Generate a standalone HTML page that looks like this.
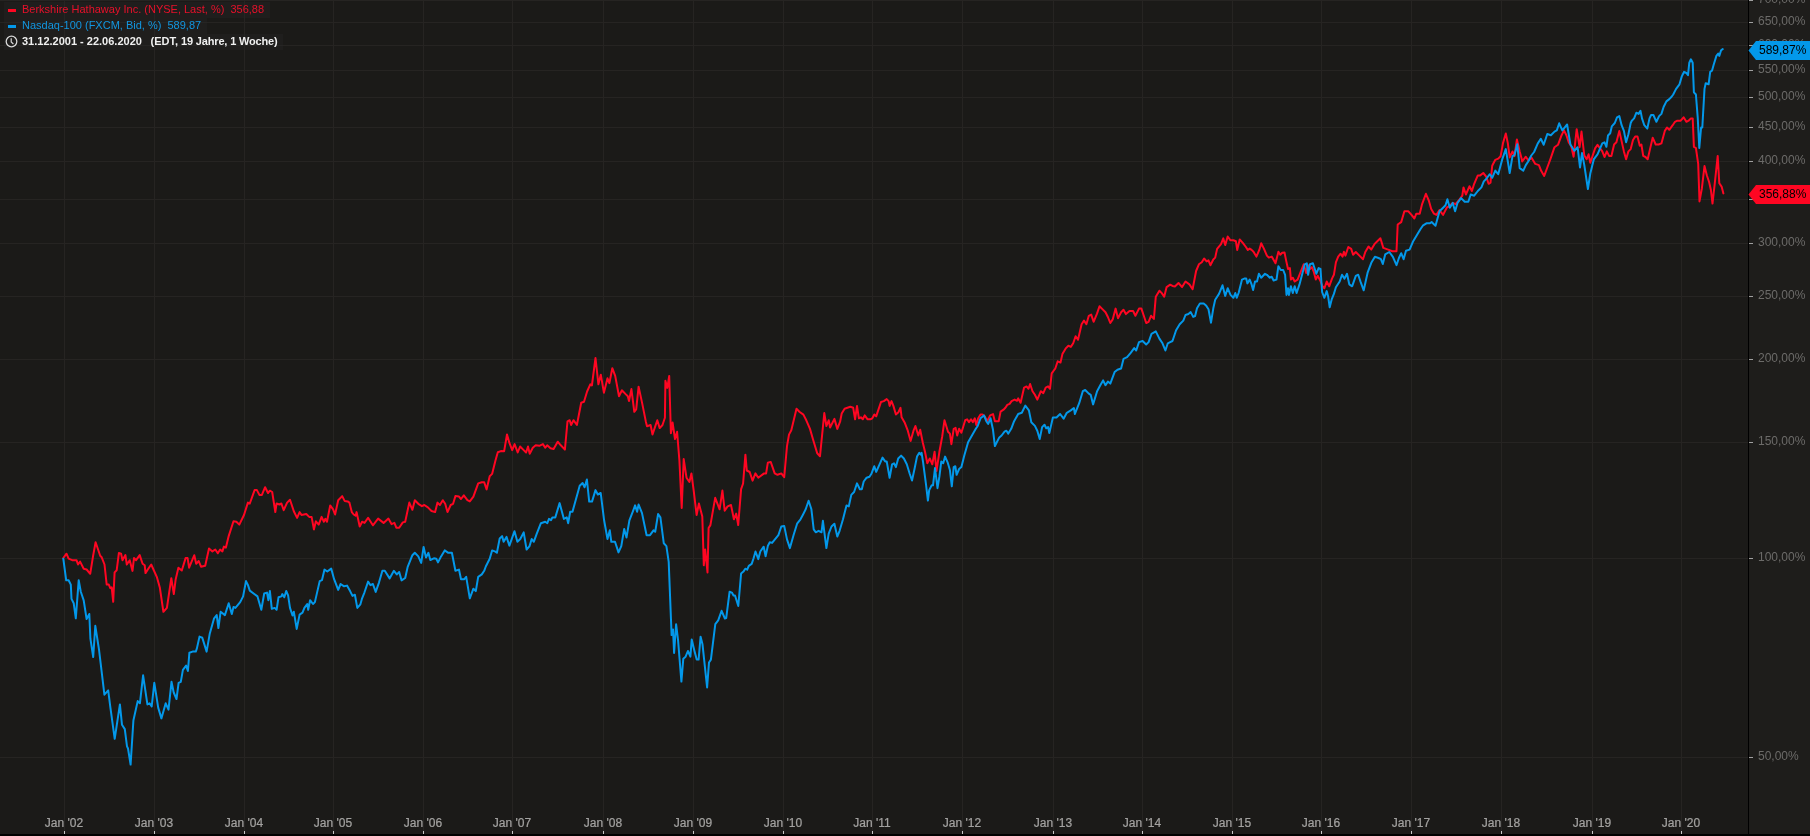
<!DOCTYPE html>
<html><head><meta charset="utf-8"><style>
html,body{-webkit-font-smoothing:antialiased;font-kerning:normal;text-rendering:optimizeLegibility;margin:0;padding:0;background:#1b1a18;width:1810px;height:836px;overflow:hidden;position:relative;font-family:"Liberation Sans",sans-serif}
svg.main{position:absolute;left:0;top:0}
.yl{will-change:transform;position:absolute;left:1758.3px;font-size:12px;line-height:14px;color:#6c6b69;white-space:nowrap}
.xl{will-change:transform;position:absolute;top:816px;width:80px;text-align:center;font-size:12px;line-height:14px;color:#a3a2a0;white-space:nowrap;-webkit-text-stroke:0.22px #a3a2a0}
.vl{will-change:transform;position:absolute;left:1758.5px;font-size:12px;line-height:19px;color:#000;white-space:nowrap}
.lg{position:absolute;background:rgba(40,40,40,0.35)}
.dash{position:absolute;width:8px;height:3px}
.lt{will-change:transform;position:absolute;font-size:11px;line-height:16px;white-space:nowrap}
</style></head><body>
<svg class="main" width="1810" height="836"><rect x="1749" y="0" width="61" height="836" fill="#1e1d1b"/><path d="M0 757.5H1748M0 558.5H1748M0 442.5H1748M0 359.5H1748M0 296.5H1748M0 243.5H1748M0 199.5H1748M0 161.5H1748M0 127.5H1748M0 97.5H1748M0 70.5H1748M0 45.5H1748M0 22.5H1748M0 0.5H1748M64.5 0V834M154.5 0V834M244.5 0V834M333.5 0V834M423.5 0V834M512.5 0V834M603.5 0V834M693.5 0V834M783.5 0V834M872.5 0V834M962.5 0V834M1053.5 0V834M1142.5 0V834M1232.5 0V834M1321.5 0V834M1411.5 0V834M1501.5 0V834M1592.5 0V834M1681.5 0V834" stroke="#262422" stroke-width="1" fill="none" shape-rendering="crispEdges"/><path d="M1749 757.5H1753M1749 558.5H1753M1749 442.5H1753M1749 359.5H1753M1749 296.5H1753M1749 243.5H1753M1749 199.5H1753M1749 161.5H1753M1749 127.5H1753M1749 97.5H1753M1749 70.5H1753M1749 45.5H1753M1749 22.5H1753M1749 0.5H1753" stroke="#a0a0a0" stroke-width="1" fill="none" shape-rendering="crispEdges"/><path d="M64.5 831V834M154.5 831V834M244.5 831V834M333.5 831V834M423.5 831V834M512.5 831V834M603.5 831V834M693.5 831V834M783.5 831V834M872.5 831V834M962.5 831V834M1053.5 831V834M1142.5 831V834M1232.5 831V834M1321.5 831V834M1411.5 831V834M1501.5 831V834M1592.5 831V834M1681.5 831V834" stroke="#c8c8c8" stroke-width="1" fill="none" shape-rendering="crispEdges"/><path d="M63.3 558.0L66.5 553.7L68.6 558.7L72.2 560.2L76.5 560.2L78.0 564.5L80.1 561.6L83.7 568.8L86.6 569.5L90.2 573.8L93.1 555.8L95.6 542.2L100.2 555.8L101.7 557.3L104.5 564.5L106.7 584.6L108.8 584.6L110.3 588.2L111.7 587.4L113.2 601.8L114.6 572.4L116.7 570.2L118.9 553.0L121.1 553.7L122.5 560.2L125.4 555.1L126.8 564.5L129.7 560.2L132.5 570.9L134.0 558.0L136.1 560.2L139.7 555.1L142.6 563.7L144.7 565.2L145.5 573.1L148.3 568.8L151.2 564.5L157.0 577.4L159.8 587.4L163.4 611.8L166.9 607.9L171.3 578.2L173.8 594.1L175.7 579.2L178.4 567.7L181.8 570.5L185.6 558.1L187.6 558.1L189.1 567.7L194.3 555.2L196.2 563.8L198.7 561.0L201.0 566.7L205.2 565.7L209.0 548.5L212.4 551.4L215.3 549.5L217.8 553.3L220.1 549.5L222.4 551.4L223.9 546.6L225.9 547.6L228.7 536.1L233.5 521.3L236.4 521.7L239.3 524.6L244.0 515.0L247.9 502.6L249.8 503.5L254.6 490.1L256.9 490.1L259.4 494.9L261.9 494.9L265.1 487.2L268.0 493.0L269.9 490.7L272.2 492.0L275.3 512.1L276.6 503.5L279.5 504.5L281.4 503.5L283.7 510.2L287.1 502.6L290.0 499.7L293.8 511.2L297.1 517.9L299.6 512.1L301.5 515.0L306.3 514.0L309.2 516.9L311.6 516.9L313.9 529.4L315.9 521.3L318.7 524.6L321.6 516.9L323.9 521.7L325.4 518.8L327.0 521.7L330.2 505.4L333.1 509.3L335.1 514.5L338.2 500.2L342.2 496.1L344.6 500.9L347.7 501.4L349.4 502.6L351.8 512.1L353.7 514.5L355.6 515.7L356.6 512.1L359.7 526.5L362.1 521.7L364.5 522.9L368.1 517.7L372.9 525.3L378.1 518.6L383.6 522.9L388.4 518.6L391.5 524.1L394.4 522.9L396.3 527.7L399.2 527.7L402.8 522.4L405.2 521.7L409.3 502.6L412.4 509.8L414.8 500.2L418.3 503.8L421.9 506.2L424.3 505.0L427.9 507.4L431.5 511.0L435.1 512.1L437.5 502.6L439.9 505.0L442.8 500.2L445.2 503.8L447.5 512.1L450.7 505.0L453.1 503.8L455.4 496.1L459.0 496.6L461.0 499.0L463.8 495.4L467.4 500.2L469.8 501.4L473.4 496.6L478.2 483.4L481.8 482.2L484.2 482.2L486.6 489.4L489.7 476.2L492.1 473.9L495.4 460.7L497.8 452.3L500.9 451.1L504.1 451.3L507.0 434.5L509.4 442.9L512.2 450.1L514.6 444.1L517.7 452.5L520.1 446.5L523.7 450.1L526.1 452.5L528.0 446.5L529.7 453.7L532.8 447.7L535.7 445.3L539.3 445.8L542.9 444.1L545.3 447.7L547.2 445.3L550.5 448.2L553.6 448.9L557.7 441.7L560.8 445.3L564.9 449.6L567.5 421.4L569.7 420.2L571.1 425.0L573.5 420.2L576.9 425.0L581.2 402.7L584.0 401.8L587.1 391.5L590.3 384.3L591.9 385.5L595.5 358.0L598.4 384.3L600.8 374.7L603.9 392.7L607.5 378.3L609.4 383.1L612.3 368.2L615.2 375.9L619.0 396.2L621.9 390.3L625.4 393.9L627.8 396.2L629.0 401.0L631.4 389.1L634.3 411.8L636.2 409.4L638.6 386.7L642.2 403.4L645.8 421.4L647.0 426.2L650.6 425.0L652.5 434.5L654.9 427.4L657.3 420.2L659.7 428.1L662.5 425.0L664.9 417.8L665.4 380.7L667.3 387.9L669.2 375.9L670.9 433.3L672.6 422.6L675.0 439.0L677.1 431.8L679.4 460.5L681.7 507.9L683.7 459.1L686.5 477.7L689.4 482.0L691.4 473.4L693.7 490.6L696.6 515.0L698.9 503.6L702.3 516.5L703.8 565.3L705.2 549.5L707.5 572.5L708.6 528.0L710.4 525.1L715.2 497.8L719.6 509.3L722.4 490.6L724.7 510.7L727.6 506.4L731.0 505.0L733.9 519.3L736.2 513.6L738.2 525.1L741.1 489.2L743.1 483.5L745.4 454.7L746.8 470.5L749.7 472.0L752.6 480.6L755.4 473.4L758.3 477.7L764.1 473.4L766.1 473.4L767.8 462.8L770.7 461.9L774.7 473.4L777.5 474.8L781.3 473.4L784.2 477.1L787.0 446.1L789.0 434.6L791.3 430.3L796.5 408.8L799.4 411.7L803.4 414.6L806.3 420.3L810.0 428.9L812.9 439.0L817.2 453.3L820.0 456.2L824.3 413.1L826.4 426.0L828.7 420.3L830.1 427.5L834.4 418.9L837.3 428.9L840.1 421.7L841.7 413.5L844.6 408.7L847.4 407.8L850.3 406.8L853.2 407.8L855.1 419.3L857.0 405.9L858.9 418.3L860.9 417.3L862.8 419.3L864.7 415.4L867.6 419.3L870.4 419.3L872.3 418.3L874.3 414.5L876.2 416.4L878.1 410.6L881.0 402.0L883.8 401.1L886.7 399.1L888.6 401.1L889.6 405.9L891.5 401.1L893.4 405.9L895.9 414.5L898.2 412.6L900.5 407.8L901.6 417.3L904.9 423.1L907.8 430.7L910.6 440.9L913.5 430.7L915.4 426.0L918.3 435.5L920.2 429.8L922.7 442.2L925.0 451.8L927.3 463.3L929.8 458.5L932.3 464.3L934.6 451.8L936.5 471.0L939.4 451.8L942.2 436.5L944.5 420.2L948.0 431.7L949.9 433.6L951.4 444.2L953.7 428.8L955.6 427.9L957.2 435.5L959.1 428.8L961.4 432.7L965.2 420.2L967.1 419.3L969.0 422.1L971.0 419.3L972.9 422.1L974.8 418.3L976.3 425.0L978.2 418.3L980.5 414.5L982.5 414.5L984.8 416.4L987.2 421.2L990.1 415.4L993.0 414.1L994.9 421.2L998.7 421.2L1000.6 411.6L1003.5 409.7L1005.4 407.8L1007.3 404.9L1009.6 403.9L1011.6 401.1L1014.6 399.6L1017.0 400.8L1018.2 398.4L1020.6 402.7L1024.1 387.6L1026.5 386.4L1028.5 388.8L1030.1 384.0L1032.5 391.2L1034.9 394.8L1037.3 399.6L1040.9 391.2L1043.3 393.1L1045.7 387.6L1048.1 386.4L1050.0 388.8L1051.7 373.3L1055.3 368.5L1057.7 361.3L1060.5 362.5L1062.4 354.1L1066.0 348.1L1068.4 345.7L1070.8 346.9L1073.2 343.3L1075.6 336.2L1078.0 339.8L1081.6 324.2L1084.0 320.6L1086.4 324.2L1088.8 315.8L1091.2 314.6L1093.6 321.8L1097.1 313.4L1099.5 306.2L1101.9 308.6L1105.5 312.2L1107.9 317.0L1110.3 323.0L1112.7 319.4L1115.6 308.6L1118.0 318.2L1121.1 312.2L1123.5 309.8L1125.9 314.1L1129.5 311.0L1133.1 311.0L1135.4 315.8L1139.0 308.6L1141.4 308.6L1143.8 315.8L1146.2 323.0L1148.6 321.8L1151.0 315.8L1153.9 318.9L1155.8 296.7L1159.4 290.7L1161.8 293.1L1164.2 296.7L1166.6 287.1L1170.2 284.7L1172.5 285.9L1174.9 286.4L1178.5 283.0L1182.1 287.1L1185.5 281.5L1189.4 284.4L1192.6 289.2L1196.1 271.0L1198.9 264.3L1201.8 262.3L1204.1 258.5L1206.6 261.4L1208.5 260.4L1210.4 265.2L1213.3 259.5L1215.2 257.6L1217.1 248.9L1221.0 244.2L1223.3 238.4L1225.2 245.1L1227.7 236.5L1230.5 240.3L1233.4 240.3L1235.9 241.3L1237.2 249.9L1239.7 239.4L1243.0 243.2L1245.9 247.0L1247.8 249.9L1249.7 248.6L1251.6 249.9L1253.5 251.8L1256.4 256.6L1259.3 249.9L1261.2 243.2L1264.0 248.9L1266.9 255.6L1268.8 257.6L1271.7 256.6L1275.5 263.3L1278.4 251.8L1280.3 254.7L1282.2 252.8L1284.5 252.4L1286.1 260.4L1288.0 269.0L1289.9 268.1L1290.9 279.6L1292.8 277.7L1294.7 281.5L1297.6 279.6L1301.4 270.0L1303.7 264.3L1306.2 272.9L1308.1 265.2L1310.0 269.0L1311.9 267.1L1313.8 271.9L1315.8 279.6L1317.7 275.7L1320.2 280.5L1322.5 286.3L1324.4 288.2L1326.7 281.5L1329.2 286.3L1332.0 278.6L1333.9 274.8L1335.9 262.3L1338.2 256.6L1340.6 253.7L1342.6 256.6L1343.9 251.8L1345.4 255.6L1348.3 247.0L1351.2 248.9L1353.1 254.7L1355.8 252.0L1359.4 255.6L1363.0 259.2L1365.3 252.0L1368.5 246.5L1371.3 249.6L1374.9 243.6L1377.3 241.2L1380.4 238.3L1383.3 247.9L1388.1 249.6L1392.4 251.3L1396.5 251.3L1397.7 224.5L1401.2 222.1L1404.4 211.3L1408.4 211.3L1411.5 214.9L1414.4 218.5L1416.3 213.7L1419.7 213.7L1422.1 204.1L1425.9 193.8L1428.8 200.5L1431.2 208.9L1434.0 213.7L1436.4 214.9L1439.5 210.1L1443.1 214.9L1446.7 207.7L1450.3 205.3L1452.7 202.9L1455.6 204.1L1458.7 200.5L1462.3 195.7L1463.5 187.4L1465.9 194.5L1469.5 186.2L1471.9 191.0L1474.2 183.8L1477.8 175.4L1480.2 175.4L1483.3 173.0L1486.2 176.6L1488.6 183.8L1490.5 182.6L1492.2 165.8L1495.3 159.8L1498.2 158.6L1500.6 156.2L1503.0 143.1L1505.8 133.5L1507.8 143.1L1509.7 157.4L1512.5 151.5L1514.5 156.2L1516.9 139.5L1519.7 151.5L1521.6 158.6L1522.2 161.5L1525.8 156.7L1528.2 160.3L1531.7 157.9L1535.3 163.9L1538.9 165.1L1541.3 171.1L1544.2 175.9L1547.3 167.5L1550.4 159.1L1554.5 147.2L1558.0 144.8L1561.6 135.2L1564.0 130.4L1566.4 135.2L1568.8 142.4L1571.2 146.0L1573.6 156.7L1576.7 129.2L1579.6 147.2L1581.5 131.6L1584.3 155.5L1586.7 159.1L1588.6 154.3L1590.3 162.7L1592.7 155.5L1595.1 148.4L1597.5 144.8L1602.3 151.4L1604.5 157.0L1606.8 151.4L1609.1 155.9L1611.4 155.9L1614.1 144.5L1616.4 142.3L1619.3 130.9L1621.6 141.1L1623.9 151.4L1626.1 159.3L1628.4 151.4L1630.7 149.1L1633.0 140.0L1635.2 136.6L1637.5 136.6L1639.8 145.7L1641.4 144.5L1643.2 155.9L1645.5 157.0L1647.7 159.3L1650.0 149.1L1652.7 137.7L1655.7 144.5L1658.6 144.5L1661.4 143.4L1664.8 130.9L1667.0 127.5L1669.3 129.8L1672.7 125.2L1675.0 121.8L1677.3 120.7L1680.7 120.7L1683.6 117.3L1686.4 121.8L1688.6 120.7L1690.9 118.4L1692.7 118.4L1693.9 146.8L1695.9 148.0L1698.2 163.9L1699.5 201.4L1701.8 188.9L1704.5 166.1L1706.8 175.2L1709.1 182.0L1710.9 190.0L1712.5 203.6L1714.8 183.2L1717.7 155.9L1719.3 183.2L1721.6 186.6L1723.4 193.4" stroke="#ff0622" stroke-width="2" fill="none" stroke-linejoin="round" stroke-linecap="round"/><path d="M63.3 558.7L66.2 580.3L68.6 580.3L70.8 584.6L71.5 598.9L73.7 603.2L75.8 618.3L78.7 580.3L80.8 591.7L83.7 600.4L86.6 619.0L89.3 614.0L90.4 638.7L93.2 657.0L95.3 625.8L99.0 649.5L104.4 694.7L108.2 690.4L110.4 707.6L114.7 738.8L119.9 704.4L122.0 724.8L124.8 729.1L127.0 746.3L128.0 748.5L130.6 764.6L133.4 720.5L137.7 701.1L139.9 703.3L143.1 675.3L147.4 704.4L149.6 703.3L151.7 706.5L154.3 682.8L158.2 707.6L161.4 718.4L165.7 703.3L168.5 709.7L171.5 681.8L173.7 692.5L176.5 699.0L178.6 682.8L180.8 681.8L182.9 669.9L186.1 665.6L187.9 671.0L189.4 652.7L192.6 651.6L195.8 651.6L196.9 648.4L199.5 636.6L202.3 637.7L206.6 651.6L209.8 633.4L214.1 618.3L216.7 615.1L218.4 628.0L220.6 611.8L224.9 615.1L228.7 603.2L231.8 614.0L233.5 606.9L235.4 607.9L240.2 602.1L243.1 596.4L246.0 581.1L247.9 584.9L249.8 590.6L253.6 593.5L257.5 596.4L261.3 609.8L264.2 593.5L267.0 592.6L268.4 600.2L269.9 591.0L271.8 608.8L274.7 607.9L276.6 609.8L278.5 597.3L281.4 596.4L282.3 594.1L284.3 597.3L286.2 591.0L288.1 595.4L290.0 607.9L292.5 615.5L293.8 611.7L296.7 628.9L299.6 614.6L302.5 612.7L304.4 607.9L307.2 604.0L308.2 609.8L310.1 600.2L313.0 604.0L314.9 602.1L319.7 581.1L322.0 580.1L324.5 569.6L327.3 571.5L331.2 568.6L334.1 579.2L334.6 580.4L338.2 589.9L340.6 584.0L344.1 586.3L347.0 585.6L350.1 591.1L352.5 595.9L354.9 594.7L357.3 607.9L360.4 604.3L362.1 598.3L364.5 592.3L368.1 581.6L370.5 585.2L372.9 584.0L375.7 591.9L378.9 582.8L382.4 570.8L384.8 570.8L389.6 578.4L393.9 570.8L396.8 574.4L399.2 572.0L401.6 580.4L405.2 578.0L407.6 567.2L412.4 555.2L414.8 552.8L418.3 556.4L421.2 562.9L423.6 546.9L426.0 557.6L428.4 552.8L430.3 560.0L433.9 558.3L436.3 558.8L438.0 562.4L441.1 556.4L444.7 550.4L448.3 552.8L451.9 552.8L455.4 570.8L459.0 569.6L461.0 579.2L464.3 579.2L466.2 576.8L469.8 598.3L473.4 588.7L475.8 591.1L478.2 576.8L481.8 574.4L484.2 570.8L485.8 566.5L489.7 558.8L492.1 550.4L495.4 551.6L496.9 552.8L499.7 538.5L502.1 536.1L503.6 541.8L506.5 536.9L509.4 545.6L514.5 531.2L517.4 541.8L520.3 539.0L523.7 532.4L526.6 549.6L529.5 546.1L531.7 539.0L533.8 541.8L536.6 534.1L540.9 523.2L545.2 521.7L547.3 523.2L549.0 518.9L551.0 520.3L552.4 517.4L555.3 517.4L559.6 503.1L563.9 518.9L566.8 517.4L568.2 523.2L570.2 511.7L572.5 511.7L579.7 485.8L582.6 483.0L584.6 487.3L586.9 479.5L589.2 501.6L592.0 501.6L595.5 490.1L597.8 494.5L600.7 493.0L604.1 520.3L607.5 539.0L609.8 530.3L611.3 541.8L615.0 541.8L618.5 552.4L621.3 546.1L624.2 528.9L626.5 537.5L629.4 520.3L632.8 511.7L635.1 505.4L637.1 511.7L638.6 504.5L642.0 513.1L646.6 535.2L650.0 535.2L653.5 530.3L655.2 531.8L658.1 514.0L660.4 517.4L663.8 543.3L666.4 546.1L668.7 561.9L671.6 635.1L673.0 629.4L674.1 652.9L676.1 624.2L678.0 639.5L681.4 681.6L683.3 658.7L685.6 656.7L687.9 651.0L690.4 656.7L691.7 639.5L694.2 650.0L696.7 659.6L698.6 659.6L700.6 636.7L702.5 644.3L707.1 687.4L709.0 662.5L710.9 659.6L715.3 624.2L718.2 620.4L721.6 610.8L724.9 618.5L726.2 618.1L729.6 591.7L731.9 592.6L733.5 595.5L735.0 595.5L738.3 606.0L741.1 573.5L743.4 571.6L745.3 568.7L747.2 569.7L748.8 565.8L751.7 563.9L753.6 558.2L755.5 551.5L758.3 559.1L760.3 551.5L763.7 546.7L765.6 556.3L767.9 545.7L769.8 542.3L772.1 542.9L778.4 535.1L781.3 526.5L784.2 525.9L787.0 539.4L789.9 548.1L793.6 535.1L797.1 523.7L800.5 519.3L802.8 515.0L805.7 509.3L808.6 500.7L811.4 509.3L813.7 529.4L815.7 532.3L818.6 530.8L821.5 532.3L822.9 520.8L826.4 548.1L828.7 533.7L831.5 526.5L834.4 523.7L837.3 536.6L839.6 530.8L843.0 519.3L846.5 505.4L848.8 506.4L851.3 494.9L854.1 492.0L857.0 483.4L859.9 489.2L861.8 489.2L863.7 481.5L866.6 477.7L869.5 476.7L871.4 473.8L874.3 466.2L876.2 471.9L880.0 463.3L882.5 457.6L885.2 461.4L886.7 461.4L889.6 477.7L892.1 464.3L894.0 463.3L895.9 467.1L898.2 458.5L901.1 455.6L903.9 458.5L906.8 464.3L909.7 473.8L912.0 480.5L914.5 469.0L917.0 456.6L919.3 452.8L920.8 454.7L921.6 452.8L923.1 462.3L926.0 484.4L927.9 500.6L929.2 490.1L931.7 485.3L933.0 485.3L935.0 468.1L937.5 488.2L939.4 476.7L941.3 461.4L943.2 463.3L945.1 456.6L947.6 462.3L949.9 470.0L951.8 486.3L953.7 467.1L955.3 466.2L956.6 474.8L959.1 469.0L961.4 467.1L964.3 455.6L968.1 442.2L972.5 434.6L975.8 428.8L977.7 426.0L980.5 418.3L984.0 415.4L986.3 421.2L988.2 424.0L990.5 418.3L993.0 429.8L994.9 446.1L996.8 442.2L999.3 437.4L1001.6 435.5L1004.5 431.7L1006.4 430.7L1008.3 433.6L1011.2 428.8L1014.1 421.2L1018.2 414.0L1021.8 412.8L1025.3 405.6L1028.9 410.4L1031.3 422.3L1034.9 425.9L1037.3 430.7L1039.7 439.1L1042.1 427.1L1044.5 424.7L1046.2 428.3L1048.1 427.1L1049.3 433.1L1052.9 417.5L1056.5 417.5L1060.1 414.0L1063.6 418.7L1066.8 412.8L1070.8 410.4L1073.9 408.0L1074.9 414.0L1076.8 409.2L1079.2 403.2L1082.8 391.2L1085.2 390.0L1088.8 393.6L1090.7 394.8L1093.1 404.4L1097.1 391.2L1100.3 385.2L1103.1 380.4L1105.5 385.2L1107.9 381.6L1110.3 383.6L1114.6 372.1L1117.5 369.7L1121.1 368.5L1123.5 358.9L1127.1 357.2L1130.7 352.9L1134.2 348.1L1136.2 350.5L1139.0 342.1L1142.6 341.0L1146.2 344.5L1148.6 342.1L1151.5 333.8L1155.8 331.4L1159.4 338.6L1162.5 343.3L1165.4 350.5L1167.8 343.3L1170.2 342.1L1172.5 341.0L1176.1 330.2L1179.7 324.2L1183.3 320.6L1185.5 315.0L1188.4 314.0L1190.7 312.1L1193.2 316.9L1195.1 316.0L1197.0 308.3L1199.9 303.5L1203.7 303.5L1206.0 305.4L1208.5 309.3L1211.0 322.7L1213.3 308.3L1215.2 299.7L1219.0 293.9L1222.5 285.3L1225.2 295.9L1227.7 288.2L1230.5 294.9L1233.4 297.8L1235.3 293.0L1236.7 297.8L1238.6 293.0L1242.0 279.6L1244.3 278.6L1246.2 278.6L1247.4 283.4L1249.7 279.6L1251.6 284.4L1253.1 290.1L1255.0 281.5L1257.0 281.5L1258.9 273.8L1261.2 277.7L1265.0 273.8L1266.9 274.8L1269.8 277.7L1271.7 276.7L1273.6 280.5L1276.5 279.6L1278.4 266.2L1280.7 270.0L1283.2 270.0L1285.1 274.8L1286.5 294.9L1288.0 288.2L1288.9 294.9L1290.9 286.3L1292.8 293.0L1294.7 286.3L1296.6 293.0L1299.5 284.4L1302.3 273.8L1304.8 264.3L1306.8 263.3L1308.1 274.8L1310.0 264.3L1312.9 263.3L1314.8 269.0L1316.3 273.8L1318.6 268.1L1320.5 269.0L1322.1 292.0L1324.4 297.8L1326.7 291.1L1328.2 296.8L1329.7 307.3L1331.6 299.7L1333.9 293.9L1335.9 287.2L1339.7 281.5L1342.0 274.8L1344.5 278.6L1347.0 273.8L1349.3 284.4L1352.1 286.3L1355.8 275.9L1358.2 274.7L1360.6 281.9L1363.7 290.3L1367.7 272.3L1371.3 262.8L1374.9 256.8L1378.5 258.0L1380.9 259.2L1382.8 264.0L1385.2 254.4L1389.3 252.0L1392.9 256.8L1396.5 265.2L1398.9 258.0L1401.2 253.2L1403.6 259.2L1406.0 250.8L1409.6 249.6L1413.2 241.2L1416.8 235.2L1420.4 229.2L1422.8 225.7L1426.4 223.3L1430.0 223.3L1431.6 222.1L1435.5 225.7L1439.5 211.3L1443.1 207.7L1445.5 205.3L1447.4 199.3L1449.8 207.7L1452.7 202.9L1455.1 211.3L1457.5 202.9L1461.1 198.1L1464.7 201.7L1468.3 201.7L1470.7 194.5L1474.2 195.7L1477.8 191.0L1481.4 187.4L1483.8 181.4L1486.2 179.0L1489.8 174.2L1492.2 177.8L1495.3 170.6L1498.2 174.2L1502.5 158.6L1505.8 149.1L1509.7 173.0L1512.5 156.2L1514.5 155.1L1517.3 144.3L1519.7 168.2L1523.3 170.6L1525.8 165.1L1528.2 161.5L1531.3 155.5L1534.1 152.0L1537.7 143.6L1540.8 138.8L1543.7 144.8L1547.3 134.0L1550.9 135.2L1554.5 131.6L1556.8 130.4L1559.2 123.3L1562.3 130.4L1565.2 126.8L1567.1 124.5L1570.5 144.8L1574.3 150.8L1577.6 147.2L1580.0 167.5L1582.0 153.1L1584.3 165.1L1587.9 189.0L1590.3 173.5L1593.9 159.1L1597.5 154.3L1602.3 143.4L1604.5 142.3L1606.4 146.8L1608.0 135.5L1610.2 133.2L1611.8 126.4L1614.8 123.0L1617.0 117.3L1619.3 116.1L1621.6 125.2L1623.9 130.9L1626.1 142.3L1628.4 134.3L1630.7 123.0L1631.8 120.7L1634.1 118.4L1636.4 112.7L1638.6 113.9L1640.5 110.9L1642.0 118.4L1644.3 125.2L1647.3 128.6L1649.5 118.4L1651.1 115.0L1653.4 115.0L1656.4 121.8L1659.1 116.1L1661.4 113.9L1663.6 107.0L1666.4 101.4L1669.3 99.1L1671.6 96.8L1673.2 94.5L1676.1 88.9L1679.5 84.3L1681.8 76.4L1684.1 71.8L1686.4 73.0L1688.0 75.2L1689.3 62.7L1690.9 59.3L1692.7 62.7L1693.9 92.3L1695.9 94.5L1697.7 117.3L1699.3 148.0L1701.1 127.5L1702.3 127.5L1704.5 88.9L1705.7 83.2L1708.6 84.3L1710.2 71.8L1712.0 70.7L1713.6 65.0L1716.4 55.9L1718.2 53.6L1719.3 55.9L1721.1 50.2L1722.7 49.1" stroke="#0398ea" stroke-width="2" fill="none" stroke-linejoin="round" stroke-linecap="round"/><rect x="1748" y="0" width="1" height="834" fill="#000"/><rect x="0" y="834" width="1810" height="2" fill="#000"/></svg>
<div class="yl" style="top:749px">50,00%</div><div class="yl" style="top:550px">100,00%</div><div class="yl" style="top:434px">150,00%</div><div class="yl" style="top:351px">200,00%</div><div class="yl" style="top:288px">250,00%</div><div class="yl" style="top:235px">300,00%</div><div class="yl" style="top:191px">350,00%</div><div class="yl" style="top:153px">400,00%</div><div class="yl" style="top:119px">450,00%</div><div class="yl" style="top:89px">500,00%</div><div class="yl" style="top:62px">550,00%</div><div class="yl" style="top:37px">600,00%</div><div class="yl" style="top:14px">650,00%</div><div class="yl" style="top:-8px">700,00%</div><div class="xl" style="left:24px">Jan '02</div><div class="xl" style="left:114px">Jan '03</div><div class="xl" style="left:204px">Jan '04</div><div class="xl" style="left:293px">Jan '05</div><div class="xl" style="left:383px">Jan '06</div><div class="xl" style="left:472px">Jan '07</div><div class="xl" style="left:563px">Jan '08</div><div class="xl" style="left:653px">Jan '09</div><div class="xl" style="left:743px">Jan '10</div><div class="xl" style="left:832px">Jan '11</div><div class="xl" style="left:922px">Jan '12</div><div class="xl" style="left:1013px">Jan '13</div><div class="xl" style="left:1102px">Jan '14</div><div class="xl" style="left:1192px">Jan '15</div><div class="xl" style="left:1281px">Jan '16</div><div class="xl" style="left:1371px">Jan '17</div><div class="xl" style="left:1461px">Jan '18</div><div class="xl" style="left:1552px">Jan '19</div><div class="xl" style="left:1641px">Jan '20</div>
<svg style="position:absolute;left:1747px;top:41px" width="63" height="19"><path d="M1.5 9.5L9 0H63V19H9Z" fill="#0398ea"/></svg><div class="vl" style="top:41px">589,87%</div><svg style="position:absolute;left:1747px;top:185px" width="63" height="19"><path d="M1.5 9.5L9 0H63V19H9Z" fill="#ff0622"/></svg><div class="vl" style="top:185px">356,88%</div>

<div class="lg" style="left:4px;top:2px;width:266px;height:16px"></div>
<div class="lg" style="left:4px;top:18px;width:203px;height:16px"></div>
<div class="lg" style="left:4px;top:34px;width:279px;height:16px"></div>
<div class="dash" style="left:8px;top:9px;background:#ff0622"></div>
<div class="dash" style="left:8px;top:25px;background:#0398ea"></div>
<div class="lt" style="left:22px;top:1px;color:#e8102a">Berkshire Hathaway Inc. (NYSE, Last, %)&nbsp; 356,88</div>
<div class="lt" style="left:22px;top:17px;color:#1296e0">Nasdaq-100 (FXCM, Bid, %)&nbsp; 589,87</div>
<svg style="position:absolute;left:5px;top:35px" width="14" height="14"><circle cx="6.5" cy="6.5" r="5.3" stroke="#d8d8d8" stroke-width="1.3" fill="none"/><path d="M6.2 3.2V7L8.4 9" stroke="#d8d8d8" stroke-width="1.2" fill="none"/></svg>
<div class="lt" style="left:22px;top:33px;color:#f0f0f0;font-weight:bold">31.12.2001 - 22.06.2020&nbsp; <span style="margin-left:2.5px">(</span>EDT, <span style="letter-spacing:-0.17px">19 Jahre, 1 Woche)</span></div>

</body></html>
